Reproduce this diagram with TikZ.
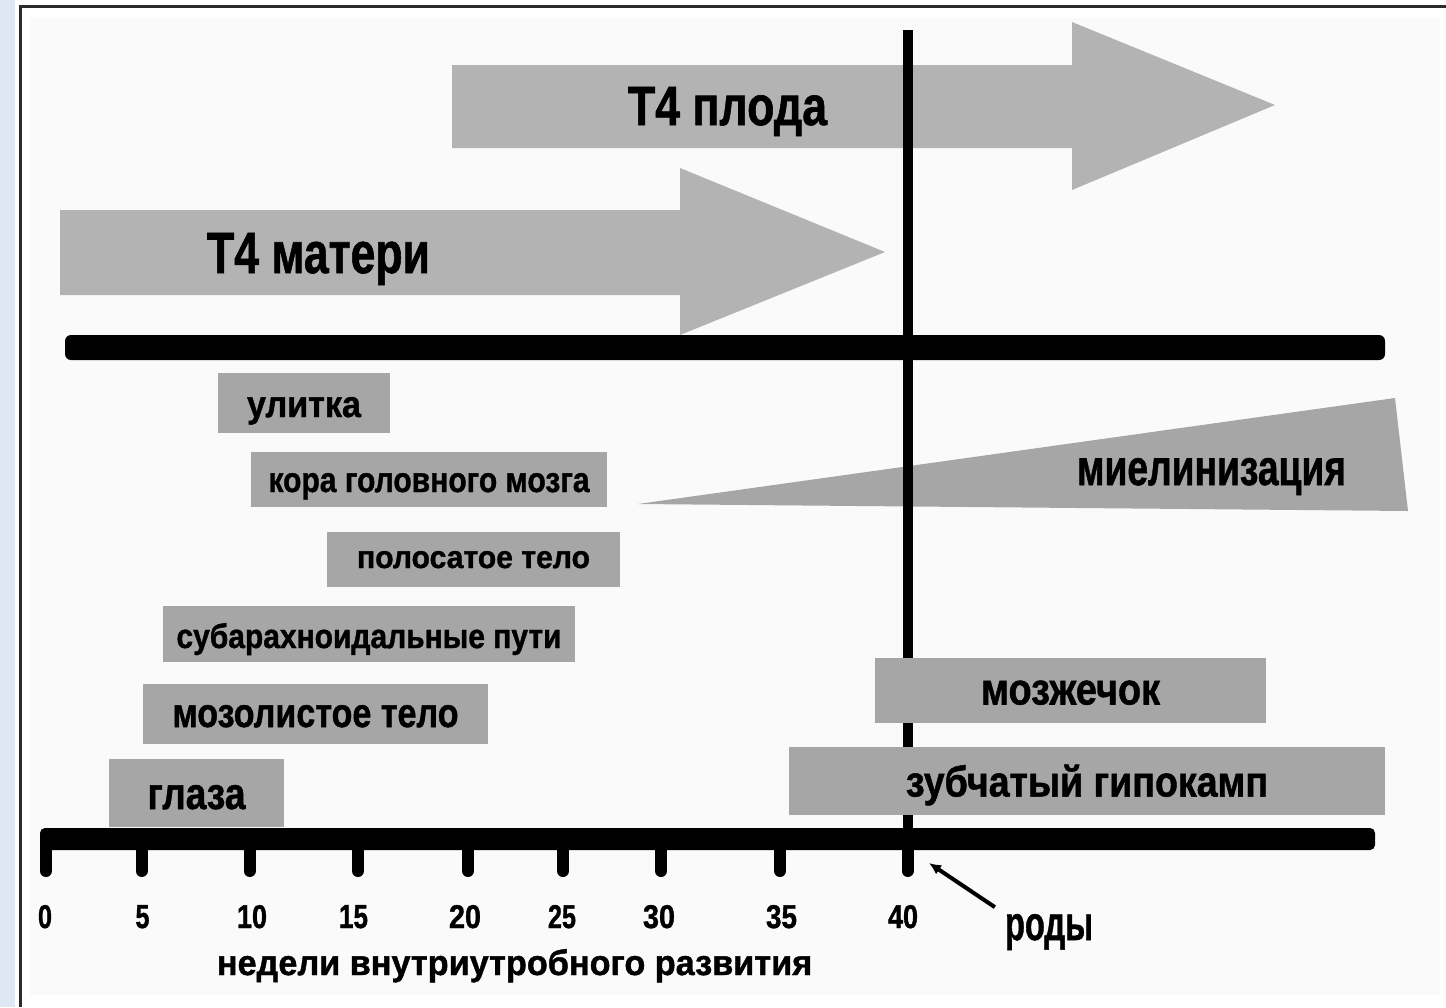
\documentclass[tikz,border=0pt]{standalone}
\usepackage{fontspec}
\setmainfont{Liberation Sans}[BoldFeatures={FakeBold=1.2}]
\usepackage{graphicx}
\usetikzlibrary{arrows.meta}
\definecolor{arrowgray}{HTML}{B3B3B3}
\definecolor{boxgray}{HTML}{A6A6A6}
\definecolor{framegray}{HTML}{2B2B2B}
\definecolor{sidebar}{HTML}{DDE8F4}
\definecolor{paper}{HTML}{FAFAFA}
\newcommand\ft[3]{\resizebox{#1pt}{#2pt}{\bfseries #3}}
\begin{document}
\begin{tikzpicture}[x=1pt,y=-1pt,
  stagebox/.style={fill=boxgray, draw=none, inner sep=0pt, text depth=0pt},
  bigarrow/.style={fill=arrowgray},
  lbl/.style={inner sep=0pt, anchor=base},
  tickline/.style={line width=12pt, line cap=round},
]
\useasboundingbox (0,0) rectangle (1446,1007);
\fill[white] (0,0) rectangle (1446,1007);
\fill[sidebar] (0,0) rectangle (15,1007);
\fill[paper] (30,18) rectangle (1440,995);
\draw[framegray, line width=3.5pt] (20.5,1007) -- (20.5,6.5) -- (1446,6.5);

% big arrows
\fill[bigarrow] (452,65) -- (1072,65) -- (1072,22) -- (1275,105) -- (1072,190) -- (1072,148) -- (452,148) -- cycle;
\node[lbl] (fetus) at (727.5,125) {\ft{199}{38}{Т4 плода}};
\fill[bigarrow] (60,210) -- (680,210) -- (680,168) -- (885,252) -- (680,335) -- (680,295) -- (60,295) -- cycle;
\node[lbl] (mother) at (318.5,273) {\ft{223}{40}{Т4 матери}};

% top bar
\fill[black, rounded corners=6pt] (65,335) rectangle (1385,360);

% myelination wedge
\fill[boxgray] (638,504) -- (1395,398) -- (1408,511) -- cycle;
\node[lbl] (myelin) at (1211.5,485) {\ft{269}{27}{миелинизация}};

% vertical birth line (over arrows and wedge, under the late boxes)
\draw[line width=10pt] (907.5,30) -- (907.5,845);

% stage boxes
\node[stagebox, minimum width=172pt, minimum height=60pt, text height=28pt] (ulitka) at (304,403) {\ft{114}{20}{улитка}};
\node[stagebox, minimum width=356pt, minimum height=55pt, text height=25pt] (kora) at (429,479.5) {\ft{321}{19}{кора головного мозга}};
\node[stagebox, minimum width=293pt, minimum height=55pt, text height=17pt] (striat) at (473.5,559.5) {\ft{233}{17}{полосатое тело}};
\node[stagebox, minimum width=412pt, minimum height=56pt, text height=28pt] (subar) at (369,634) {\ft{385}{25}{субарахноидальные пути}};
\node[stagebox, minimum width=345pt, minimum height=60pt, text height=26pt] (corpus) at (315.5,714) {\ft{286}{22}{мозолистое тело}};
\node[stagebox, minimum width=175pt, minimum height=68pt, text height=32pt] (eyes) at (196.5,793) {\ft{98}{24}{глаза}};
\node[stagebox, minimum width=391pt, minimum height=65pt, text height=28pt] (cereb) at (1070.5,690.5) {\ft{179}{24}{мозжечок}};
\node[stagebox, minimum width=596pt, minimum height=68pt, text height=31pt] (dent) at (1087,781) {\ft{362}{32}{зубчатый гипокамп}};

% time axis
\fill[black, rounded corners=5pt] (40,828) rectangle (1375,850);
\foreach \x in {46,141.5,249.5,358,468,563,661,780,907.5}
  \draw[tickline] (\x,845) -- (\x,871);
\foreach \x/\t/\w in {45/0/14,142.5/5/14,252/10/30,353.5/15/29,465/20/32,562/25/28,659/30/32,781.5/35/31,903/40/30}
  \node[lbl] (n\t) at (\x,928) {\ft{\w}{23}{\t}};
\node[lbl] (weeks) at (514.5,975) {\ft{595}{26}{недели внутриутробного развития}};
\node[lbl] (birth) at (1049,940) {\ft{88}{26}{роды}};
\coordinate (birthpt) at (929,863);
\draw[line width=4pt, {Latex[length=12pt,width=11pt]}-, shorten >=12pt] (birthpt) -- (birth.north west);
\end{tikzpicture}
\end{document}
